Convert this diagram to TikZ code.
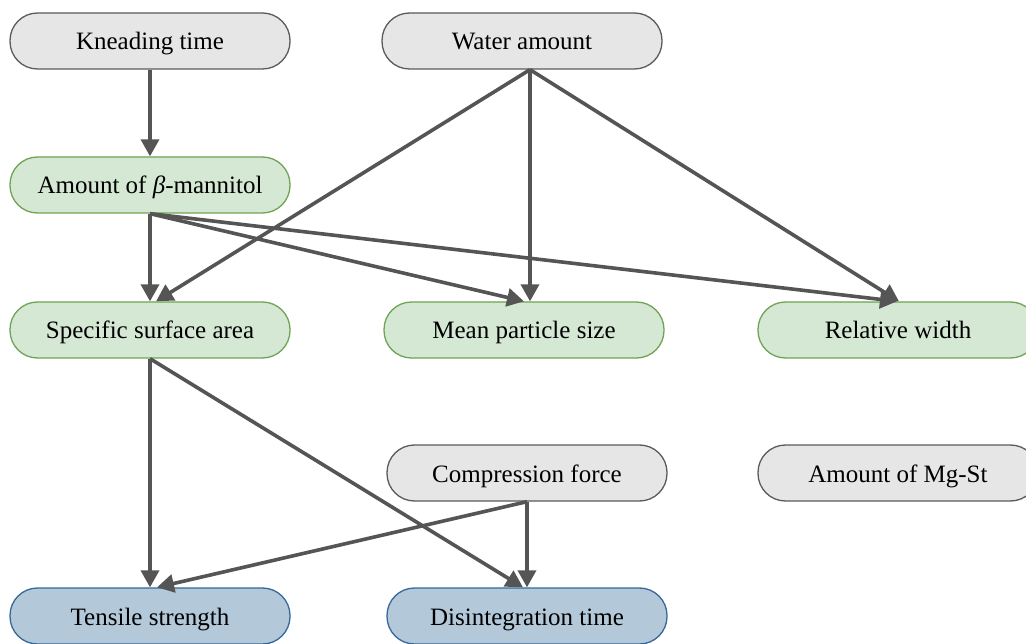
\documentclass[tikz,border=0pt]{standalone}
\usepackage{fontspec}
\setmainfont{Liberation Serif}
\usetikzlibrary{arrows.meta}
\definecolor{greyfill}{HTML}{E6E6E6}
\definecolor{greyline}{HTML}{5A5A5A}
\definecolor{greenfill}{HTML}{D5E8D4}
\definecolor{greenline}{HTML}{6FA353}
\definecolor{bluefill}{HTML}{B3C9DA}
\definecolor{blueline}{HTML}{35679A}
\definecolor{arrowcol}{HTML}{555555}
\tikzset{
  box/.style={rectangle, rounded corners=27.5pt, minimum width=280pt, minimum height=56pt,
    line width=1.3pt, inner sep=0pt, text height=22pt, text depth=4pt,
    font=\fontsize{25}{30}\selectfont},
  greybox/.style={box, draw=greyline, fill=greyfill},
  greenbox/.style={box, draw=greenline, fill=greenfill},
  bluebox/.style={box, draw=blueline, fill=bluefill},
  conn/.style={draw=arrowcol, line width=3.6pt, -{Triangle[length=17pt,width=18pt]}}
}
\begin{document}
\begin{tikzpicture}[x=1pt,y=-1pt]
\useasboundingbox (0,0) rectangle (1026,644);
\node[greybox]  (kt)  at (150,41)  {Kneading time};
\node[greybox]  (wa)  at (522,41)  {Water amount};
\node[greenbox] (bm)  at (150,185) {Amount of \textit{β}-mannitol};
\node[greenbox] (ssa) at (150,330) {Specific surface area};
\node[greenbox] (mps) at (524,330) {Mean particle size};
\node[greenbox] (rw)  at (898,330) {Relative width};
\node[greybox]  (cf)  at (527,473) {Compression force};
\node[greybox]  (mg)  at (898,473) {Amount of Mg-St};
\node[bluebox]  (ts)  at (150,616) {Tensile strength};
\node[bluebox]  (dt)  at (527,616) {Disintegration time};

\draw[conn] (kt.south) -- (bm.north);
\draw[conn] ([xshift=8pt]wa.south) -- ([xshift=6pt]ssa.north);
\draw[conn] ([xshift=8pt]wa.south) -- ([xshift=6pt]mps.north);
\draw[conn] ([xshift=8pt]wa.south) -- ([xshift=1pt]rw.north);
\draw[conn] (bm.south) -- (ssa.north);
\draw[conn] (bm.south) -- ([xshift=0pt]mps.north);
\draw[conn] (bm.south) -- ([xshift=-1pt]rw.north);
\draw[conn] (ssa.south) -- (ts.north);
\draw[conn] (ssa.south) -- ([xshift=-4pt]dt.north);
\draw[conn] (cf.south) -- ([xshift=7pt]ts.north);
\draw[conn] (cf.south) -- (dt.north);
\end{tikzpicture}
\end{document}
